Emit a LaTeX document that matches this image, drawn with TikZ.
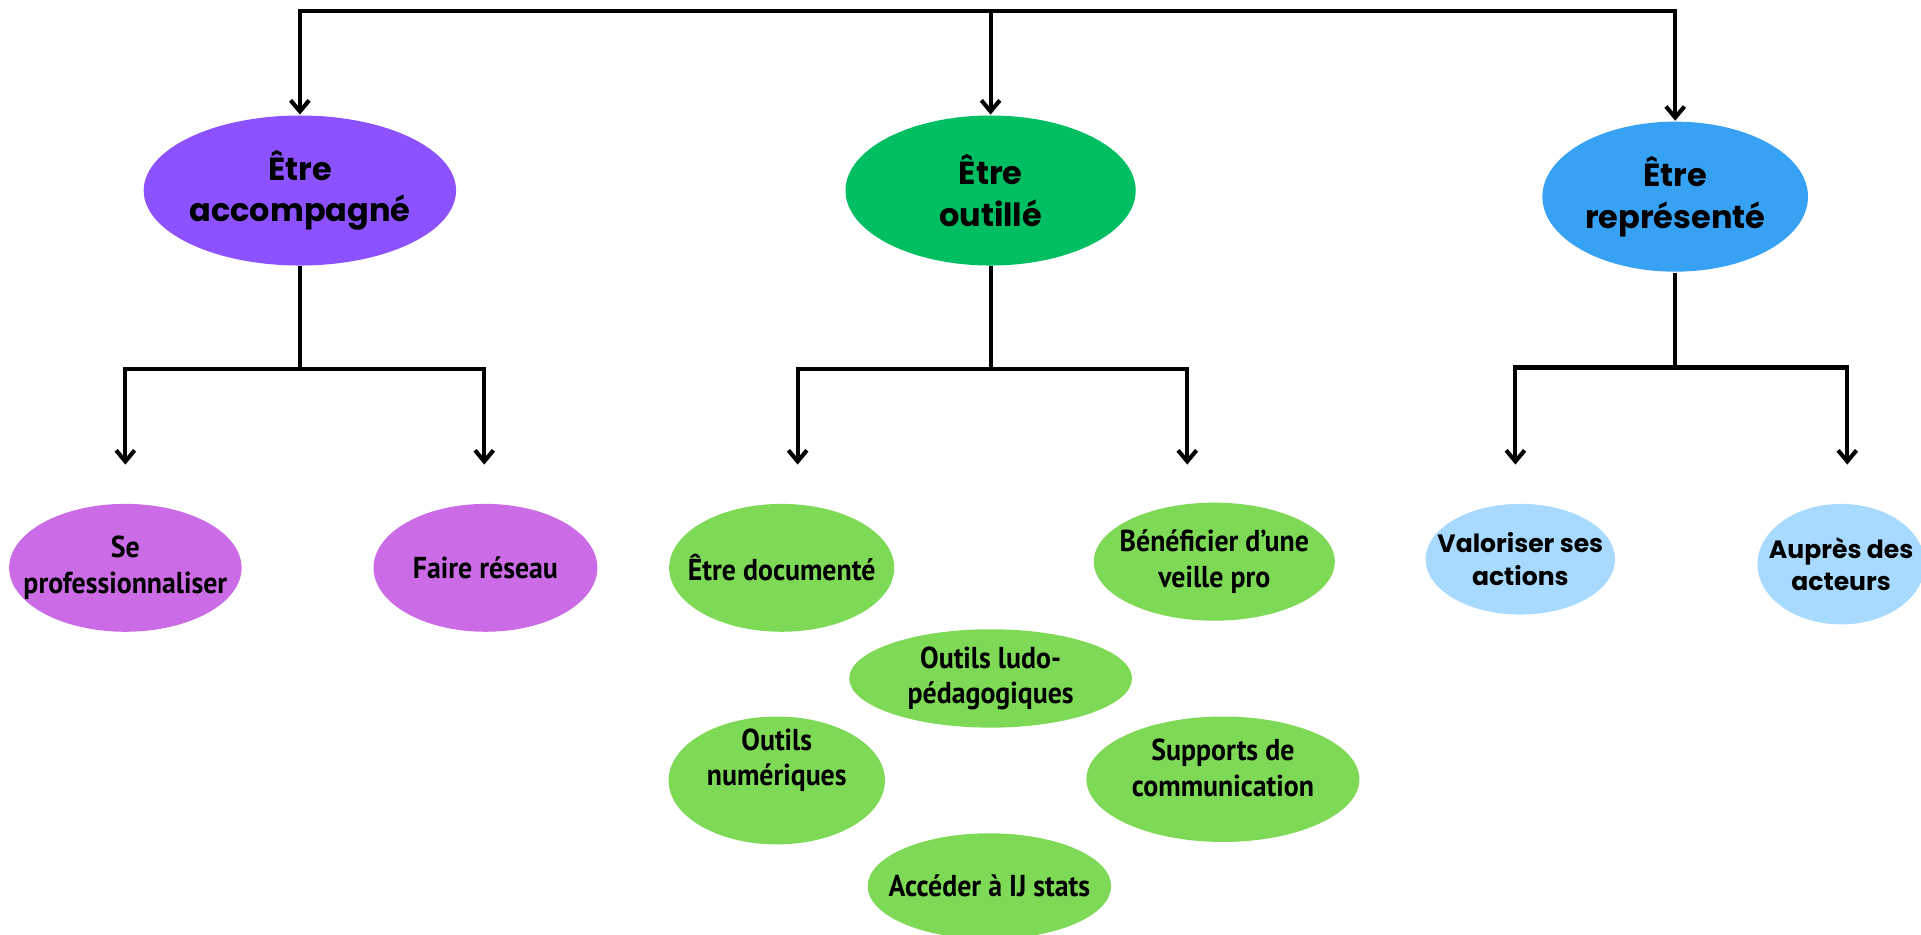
\documentclass[tikz,border=0pt]{standalone}
\usepackage{fontspec}
\newfontfamily\popfont{Poppins}
\newfontfamily\ptfont{PT Sans}[FakeStretch=0.92]
\usetikzlibrary{shapes.geometric,arrows.meta}
\definecolor{accpurple}{HTML}{8C52FF}
\definecolor{outgreen}{HTML}{00BF63}
\definecolor{repblue}{HTML}{37A1F3}
\definecolor{subpurple}{HTML}{CB6CE6}
\definecolor{subgreen}{HTML}{7ED957}
\definecolor{subblue}{HTML}{A8DAFF}

\begin{document}
\begin{tikzpicture}[x=0.01cm,y=-0.01cm,>={Straight Barb[length=0.9mm,width=1.5mm]},
    link/.style={draw,line width=0.95pt},
    arr/.style={link,->},
    blob/.style={ellipse,inner xsep=-2cm,inner ysep=-1cm,align=center},
    topnode/.style={blob,font=\popfont\bfseries\fontsize{7.4}{9.6}\selectfont},
    subnode/.style={blob,fill=#1,font=\ptfont\bfseries\fontsize{7}{8.3}\selectfont},
    repnode/.style={blob,fill=subblue,font=\popfont\bfseries\fontsize{5.8}{7.6}\selectfont}]
    \useasboundingbox (0,0) rectangle (1563,760);
    \node[topnode,fill=accpurple,minimum width=2.54cm,minimum height=1.22cm] (acc) at (244,155) {Être\\accompagné};
    \node[topnode,fill=outgreen,minimum width=2.36cm,minimum height=1.22cm] (out) at (806,155) {Être\\outillé};
    \node[topnode,fill=repblue,minimum width=2.16cm,minimum height=1.22cm] (rep) at (1363,160) {Être\\représenté};
    \node[subnode=subpurple,minimum width=1.89cm,minimum height=1.04cm] (seprof) at (102,462) {Se\\professionnaliser};
    \node[subnode=subpurple,minimum width=1.82cm,minimum height=1.04cm] (reseau) at (395,462) {Faire réseau};
    \node[subnode=subgreen,minimum width=1.83cm,minimum height=1.04cm] (doc) at (636,462) {Être documenté};
    \node[subnode=subgreen,minimum width=1.96cm,minimum height=0.96cm] (veille) at (988,457) {Bénéficier d’une\\veille pro};
    \node[subnode=subgreen,minimum width=2.30cm,minimum height=0.80cm] (ludo) at (806,552) {Outils ludo-\\pédagogiques};
    \node[subnode=subgreen,minimum width=1.76cm,minimum height=1.04cm] (num) at (632,635) {Outils\\numériques\\[0.35em]};
    \node[subnode=subgreen,minimum width=2.22cm,minimum height=1.02cm] (supports) at (995,634) {Supports de\\communication\\[-0.4em]};
    \node[subnode=subgreen,minimum width=1.98cm,minimum height=0.86cm] (ijstats) at (805,721) {Accéder à IJ stats};
    \node[repnode,minimum width=1.54cm,minimum height=0.90cm] (valor) at (1237,455) {Valoriser ses\\actions};
    \node[repnode,minimum width=1.36cm,minimum height=0.98cm] (aupres) at (1498,459) {Auprès des\\acteurs};
    \coordinate (topbar) at (806,9);
    \coordinate (accfork) at (244,300);
    \coordinate (outfork) at (806,300);
    \coordinate (repfork) at (1363,299);
    \coordinate (accL) at (102,378);
    \coordinate (accR) at (394,378);
    \coordinate (outL) at (649,378);
    \coordinate (outR) at (966,378);
    \coordinate (repL) at (1233,378);
    \coordinate (repR) at (1503,378);
    \path[arr] (topbar) -| (acc);
    \path[arr] (topbar) -- (out);
    \path[arr] (topbar) -| (rep);
    \path[link] (acc) -- (accfork);
    \path[arr] (accfork) -| (accL);
    \path[arr] (accfork) -| (accR);
    \path[link] (out) -- (outfork);
    \path[arr] (outfork) -| (outL);
    \path[arr] (outfork) -| (outR);
    \path[link] (rep) -- (repfork);
    \path[arr] (repfork) -| (repL);
    \path[arr] (repfork) -| (repR);
\end{tikzpicture}
\end{document}
